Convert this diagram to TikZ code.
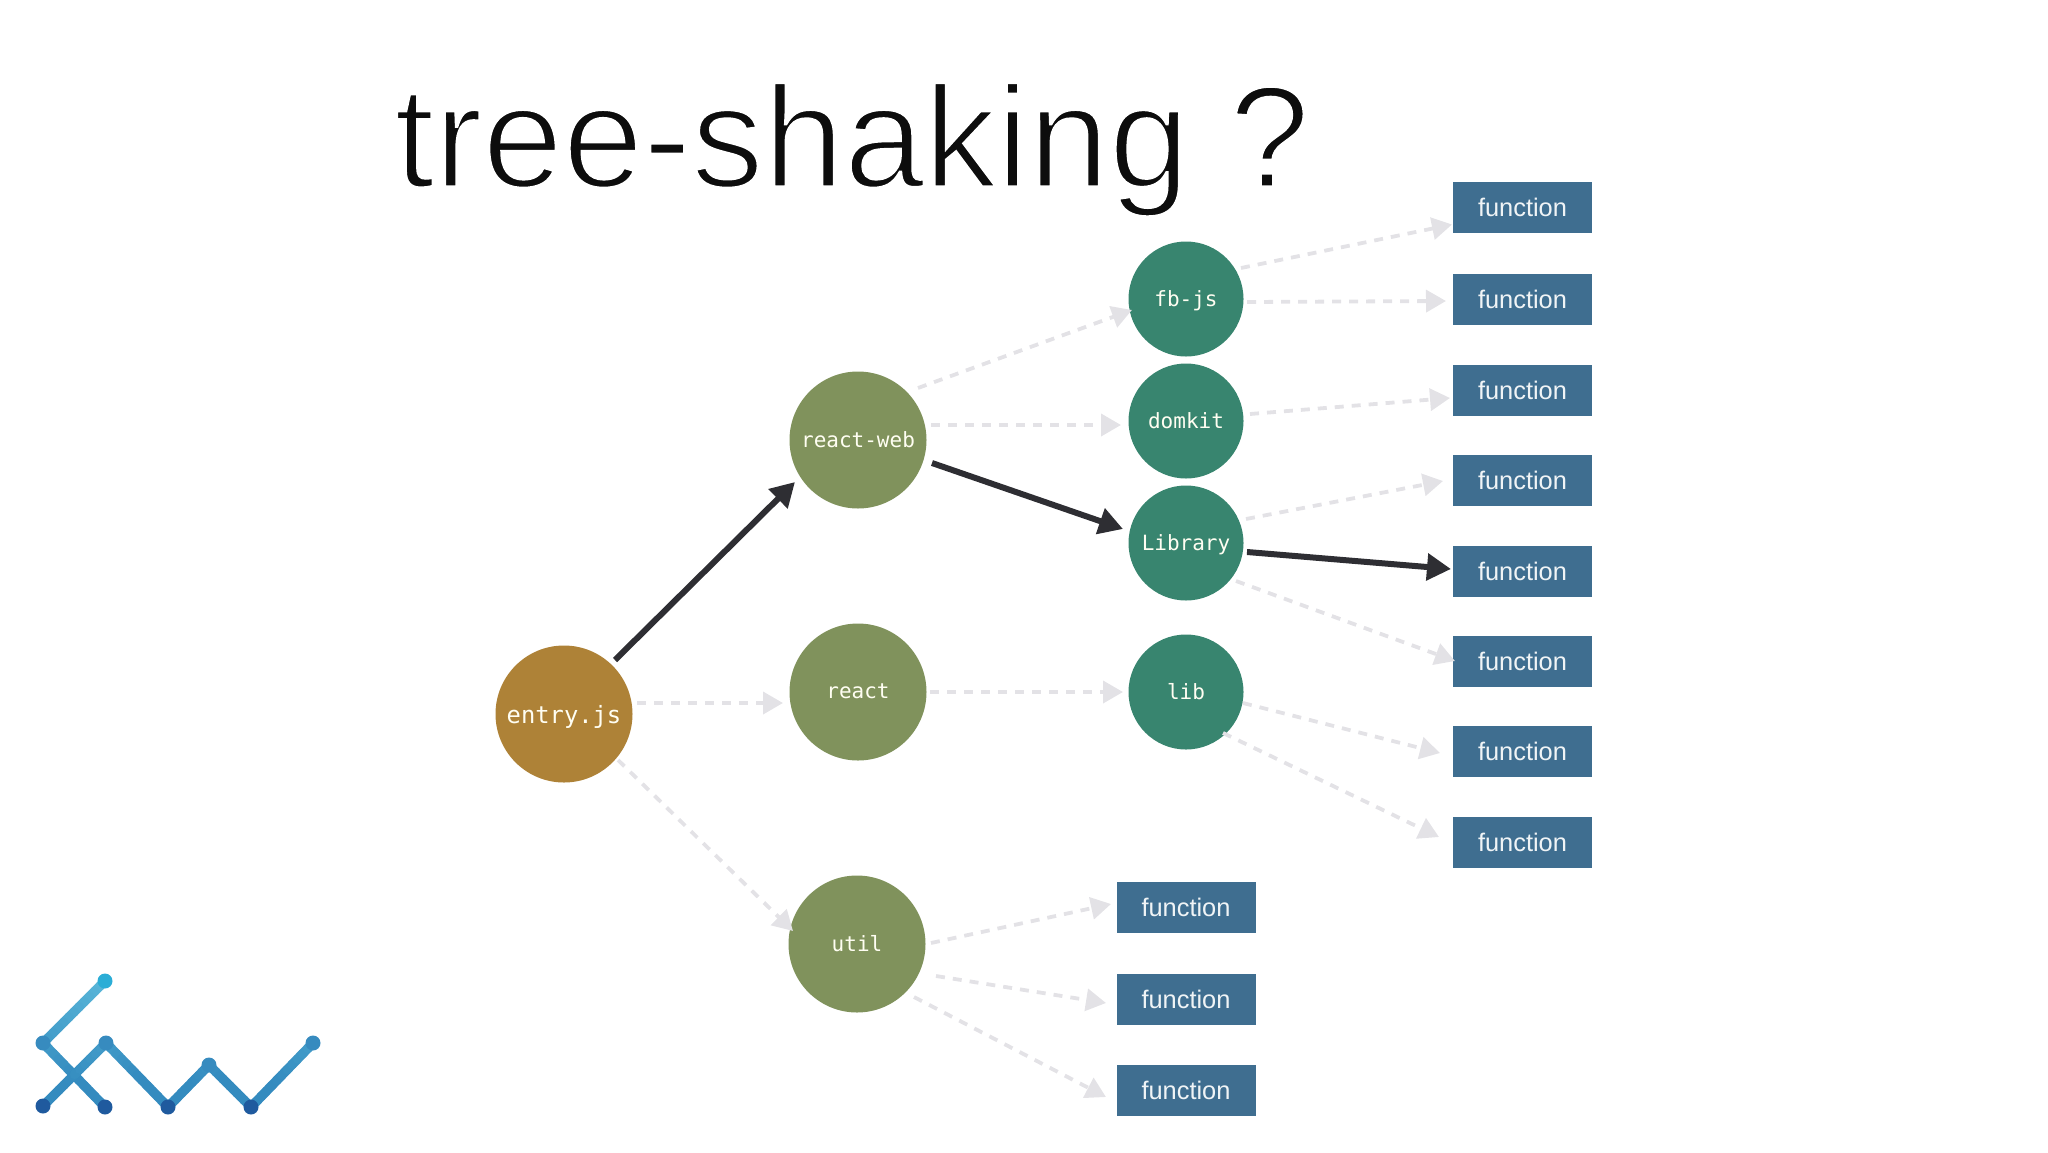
\documentclass[tikz,border=0pt]{standalone}
\usepackage{fontspec}
\setmainfont{Liberation Sans}
\newfontfamily\codefont{DejaVu Sans Mono}
\usetikzlibrary{arrows.meta}
\definecolor{entrycol}{HTML}{AE8237}
\definecolor{olivecol}{HTML}{80925C}
\definecolor{tealcol}{HTML}{38856F}
\definecolor{boxcol}{HTML}{3F6E90}
\definecolor{darkline}{HTML}{2E2E33}
\definecolor{ghostline}{HTML}{E3E2E6}
\definecolor{logotop}{HTML}{5AB7D9}
\definecolor{logobot}{HTML}{2A7FB8}
\definecolor{dottop}{HTML}{2BADD6}
\definecolor{dotmid}{HTML}{378BBF}
\definecolor{dotlow}{HTML}{1F5A9E}
\tikzset{
  circ/.style={circle,minimum size=#1,inner sep=0pt,text depth=0pt,text=white!95!yellow},
  entrynode/.style={circ=137pt,fill=entrycol,font=\codefont\fontsize{23.8}{26}\selectfont},
  olivenode/.style={circ=137pt,fill=olivecol,font=\codefont\fontsize{21}{24}\selectfont},
  tealnode/.style={circ=115pt,fill=tealcol,font=\codefont\fontsize{21}{24}\selectfont},
  fnbox/.style={rectangle,fill=boxcol,minimum width=139pt,minimum height=51pt,inner sep=0pt,text=white!92!boxcol,font=\fontsize{25.4}{28}\selectfont},
  ghost/.style={draw=ghostline,line width=3.8pt,dash pattern=on 9pt off 8pt,-{Triangle[length=20pt,width=22pt,fill=ghostline]}},
  active/.style={draw=darkline,line width=6pt,-{Triangle[length=24pt,width=26pt,fill=darkline]}},
  dotnode/.style={circle,minimum size=15pt,inner sep=0pt,fill=#1}
}
\newcommand{\linkto}[5]{\draw[#1] ([shift={(#3)}]#2.center) -- ([shift={(#5)}]#4.center);}
\begin{document}
\begin{tikzpicture}[x=1pt,y=-1pt]
\useasboundingbox (0,0) rectangle (2048,1152);
\node[anchor=base west,inner sep=0pt,text=black!95,font=\fontsize{144.5}{150}\selectfont] (title) at (394,187) {\special{pdf:code q 2 Tr 3.4 w 1 1 1 RG}tree-shaking ?\special{pdf:code Q}};

\node[entrynode] (entry) at (564,714) {entry.js};
\node[olivenode] (rw) at (858,440) {\raisebox{1pt}{react-web}};
\node[olivenode] (react) at (858,692) {\raisebox{1pt}{react}};
\node[olivenode] (util) at (857,944) {\raisebox{1pt}{util}};
\node[tealnode] (fb) at (1186,299) {fb-js};
\node[tealnode] (dom) at (1186,421) {domkit};
\node[tealnode] (libr) at (1186,543) {Library};
\node[tealnode] (lib) at (1186,692) {\raisebox{1pt}{lib}};

\node[fnbox] (b1) at (1522.5,207.5) {function};
\node[fnbox] (b2) at (1522.5,299) {function};
\node[fnbox] (b3) at (1522.5,390) {function};
\node[fnbox] (b4) at (1522.5,480) {function};
\node[fnbox] (b5) at (1522.5,571) {function};
\node[fnbox] (b6) at (1522.5,661) {function};
\node[fnbox] (b7) at (1522.5,751) {function};
\node[fnbox] (b8) at (1522.5,842) {function};
\node[fnbox] (f1) at (1186,907) {function};
\node[fnbox] (f2) at (1186,999) {function};
\node[fnbox] (f3) at (1186,1090) {function};

\linkto{ghost}{rw}{60,-52}{fb}{-54,11}
\linkto{ghost}{rw}{73,-15}{dom}{-65,4}
\linkto{ghost}{fb}{55,-31}{b1}{-70.5,17}
\linkto{ghost}{fb}{61,3}{b2}{-76.5,2}
\linkto{ghost}{dom}{64,-7}{b3}{-72.5,8}
\linkto{ghost}{libr}{60,-24}{b4}{-79.5,1}
\linkto{ghost}{libr}{50,38}{b6}{-67.5,0}
\linkto{ghost}{lib}{57,11}{b7}{-82.5,2}
\linkto{ghost}{lib}{37,41}{b8}{-83.5,-5}
\linkto{ghost}{entry}{73,-11}{react}{-75,11}
\linkto{ghost}{react}{72,0}{lib}{-63,0}
\linkto{ghost}{entry}{54,46}{util}{-64,-13}
\linkto{ghost}{util}{74,-1}{f1}{-75,-3}
\linkto{ghost}{util}{79,32}{f2}{-80,4}
\linkto{ghost}{util}{57,53}{f3}{-80,7}
\linkto{active}{entry}{51,-54}{rw}{-63,42}
\linkto{active}{rw}{74,23}{libr}{-63,-14}
\linkto{active}{libr}{61,9}{b5}{-71.5,-2}

% logo strokes, coloured by height
\foreach \xa/\ya/\xb/\yb in {105/981/43/1043,43/1043/105/1107,43/1106/106/1043,106/1043/168/1107,168/1107/209/1065,209/1065/251/1107,251/1107/313/1043}{
  \foreach \k in {0,...,11}{
    \pgfmathsetmacro{\xs}{\xa+(\xb-\xa)*\k/12}
    \pgfmathsetmacro{\ys}{\ya+(\yb-\ya)*\k/12}
    \pgfmathsetmacro{\xe}{\xa+(\xb-\xa)*(\k+1)/12}
    \pgfmathsetmacro{\ye}{\ya+(\yb-\ya)*(\k+1)/12}
    \pgfmathsetmacro{\mixv}{max(0,min(100,(\ys+\ye)/2-981)/1.26)}
    \draw[line width=9.5pt,line cap=round,color=logobot!\mixv!logotop] (\xs,\ys) -- (\xe,\ye);
  }
}
\node[dotnode=dottop] (d1) at (105,981) {};
\node[dotnode=dotmid] (d2) at (43,1043) {};
\node[dotnode=dotmid] (d3) at (106,1043) {};
\node[dotnode=dotmid] (d4) at (209,1065) {};
\node[dotnode=dotmid] (d5) at (313,1043) {};
\node[dotnode=dotlow] (d6) at (43,1106) {};
\node[dotnode=dotlow] (d7) at (105,1107) {};
\node[dotnode=dotlow] (d8) at (168,1107) {};
\node[dotnode=dotlow] (d9) at (251,1107) {};
\end{tikzpicture}
\end{document}
